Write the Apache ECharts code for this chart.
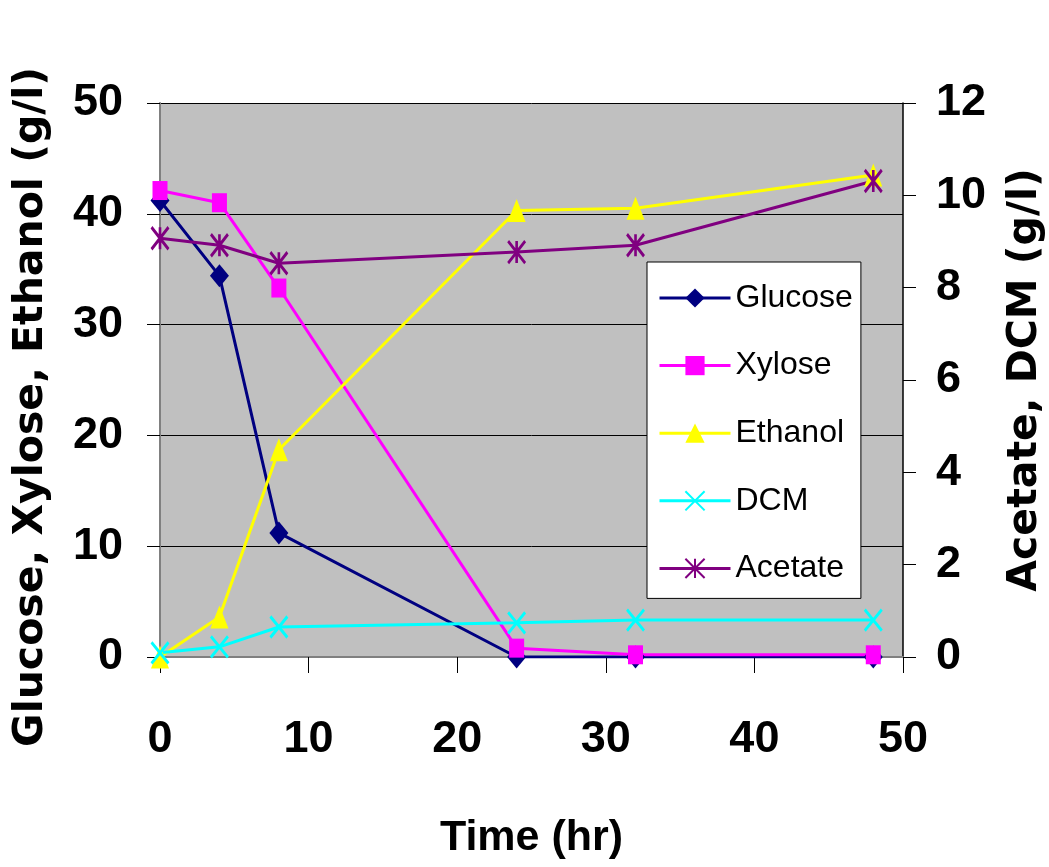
<!DOCTYPE html>
<html>
<head>
<meta charset="utf-8">
<script src="https://cdn.jsdelivr.net/npm/echarts@6/dist/echarts.min.js"></script>
<style>
  html, body { margin: 0; padding: 0; background: #fff; }
  #chart { width: 1049px; height: 867px; }
</style>
</head>
<body>
<div id="chart"></div>
<script>
// Sampling times (hr)
const times = [0, 4, 8, 24, 32, 48];
// Left axis series (g/l)
const glucose = [41.2, 34.4, 11.2, 0, 0, 0];
const xylose = [42.1, 41.0, 33.3, 0.8, 0.2, 0.2];
const ethanol = [0, 3.6, 18.7, 40.3, 40.5, 43.5];
// Right axis series (g/l)
const dcm = [0.09, 0.22, 0.65, 0.74, 0.8, 0.8];
const acetate = [9.07, 8.92, 8.53, 8.77, 8.92, 10.31];

const seriesNames = ['Glucose', 'Xylose', 'Ethanol', 'DCM', 'Acetate'];

const pairs = arr => times.map((t, i) => [t, arr[i]]);

const arial = '"Liberation Sans", Arial, sans-serif';
const wide = '"DejaVu Sans", "Liberation Sans", sans-serif';

const crossPath = 'path://M0,0L20,24M20,0L0,24';
const starPath = 'path://M0,0L20,24M20,0L0,24M10,0L10,24';

const chart = echarts.init(document.getElementById('chart'), null, { renderer: 'canvas' });

const tickLabel = { fontFamily: arial, fontWeight: 'bold', fontSize: 45, color: '#000' };

chart.setOption({
  animation: false,
  backgroundColor: '#fff',
  grid: {
    left: 160, right: 146, top: 103, bottom: 210,
    outerBoundsMode: 'none',
    containLabel: false,
    show: true, backgroundColor: '#c0c0c0', borderWidth: 0
  },
  legend: {
    orient: 'vertical',
    left: 647, top: 262,
    padding: [16, 8, 10, 11],
    backgroundColor: '#fff',
    borderColor: '#000', borderWidth: 1,
    itemWidth: 71, itemHeight: 24, itemGap: 27.6, itemTextGap: 9,
    lineStyle: { width: 3 },
    textStyle: { fontFamily: arial, fontSize: 32, color: '#000', lineHeight: 40 },
    data: seriesNames
  },
  xAxis: {
    type: 'value', min: 0, max: 50, interval: 10,
    name: 'Time (hr)', nameLocation: 'middle', nameGap: 160,
    nameTextStyle: { fontFamily: arial, fontWeight: 'bold', fontSize: 43, color: '#000' },
    axisLine: { show: true, lineStyle: { color: '#808080', width: 2 } },
    axisTick: { show: true, inside: false, length: 16, lineStyle: { color: '#000', width: 1 } },
    axisLabel: Object.assign({ margin: 60 }, tickLabel),
    splitLine: { show: false }
  },
  yAxis: [
    {
      type: 'value', min: 0, max: 50, interval: 10, position: 'left',
      name: 'Glucose, Xylose, Ethanol (g/l)', nameLocation: 'middle', nameGap: 108,
      nameTextStyle: { fontFamily: wide, fontWeight: 'bold', fontSize: 41, color: '#000', padding: [0, 54, 0, 0] },
      axisLine: { show: true, lineStyle: { color: '#808080', width: 2 } },
      axisTick: { show: true, length: 13, lineStyle: { color: '#000', width: 1 } },
      axisLabel: Object.assign({ margin: 37 }, tickLabel),
      splitLine: { show: true, lineStyle: { color: '#000', width: 1 } }
    },
    {
      type: 'value', min: 0, max: 12, interval: 2, position: 'right',
      name: 'Acetate, DCM (g/l)', nameLocation: 'middle', nameGap: 102,
      nameTextStyle: { fontFamily: wide, fontWeight: 'bold', fontSize: 41, color: '#000' },
      axisLine: { show: true, lineStyle: { color: '#000', width: 1.5 } },
      axisTick: { show: true, length: 13, lineStyle: { color: '#000', width: 1 } },
      axisLabel: Object.assign({ margin: 33 }, tickLabel),
      splitLine: { show: false }
    }
  ],
  series: [
    {
      name: 'Glucose', type: 'line', yAxisIndex: 0, data: pairs(glucose),
      symbol: 'diamond', symbolSize: [19, 23],
      lineStyle: { color: '#000080', width: 3 },
      itemStyle: { color: '#000080' }
    },
    {
      name: 'Xylose', type: 'line', yAxisIndex: 0, data: pairs(xylose),
      symbol: 'rect', symbolSize: [15, 19],
      lineStyle: { color: '#ff00ff', width: 3 },
      itemStyle: { color: '#ff00ff' }
    },
    {
      name: 'Ethanol', type: 'line', yAxisIndex: 0, data: pairs(ethanol),
      symbol: 'triangle', symbolSize: [18, 23],
      lineStyle: { color: '#ffff00', width: 3 },
      itemStyle: { color: '#ffff00' }
    },
    {
      name: 'DCM', type: 'line', yAxisIndex: 1, data: pairs(dcm),
      symbol: crossPath, symbolSize: [17, 21],
      lineStyle: { color: '#00ffff', width: 3 },
      itemStyle: { color: 'none', borderColor: '#00ffff', borderWidth: 3 }
    },
    {
      name: 'Acetate', type: 'line', yAxisIndex: 1, data: pairs(acetate),
      symbol: starPath, symbolSize: [17, 22],
      lineStyle: { color: '#800080', width: 3 },
      itemStyle: { color: 'none', borderColor: '#800080', borderWidth: 3 }
    }
  ]
});
</script>
</body>
</html>
